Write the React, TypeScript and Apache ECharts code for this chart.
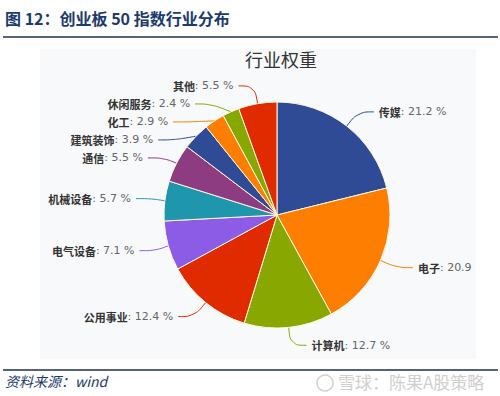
import React, { useEffect, useRef } from "react";
import * as echarts from "echarts";

const categories = ["传媒", "电子", "计算机", "公用事业", "电气设备", "机械设备", "通信", "建筑装饰", "化工", "休闲服务", "其他"];
const weights = [21.2, 20.9, 12.7, 12.4, 7.1, 5.7, 5.5, 3.9, 2.9, 2.4, 5.5];
const palette = ["#2f4b96", "#fd7e00", "#88a700", "#e02a00", "#8c5ce6", "#1e97ad", "#8e3c82"];
const chartTitle = "行业权重";
const figureTitle = "图 12：创业板 50 指数行业分布";
const sourceText = "资料来源：wind";
const watermark = "雪球：陈果A股策略";

export default function App() {
  const ref = useRef<HTMLDivElement>(null);
  useEffect(() => {
    if (!ref.current) return;
    const chart = echarts.init(ref.current, undefined, { renderer: "svg" });
    const cjk = "'Noto Sans CJK SC', 'Noto Sans', sans-serif";
    const num = "'DejaVu Sans', 'Noto Sans CJK SC', sans-serif";
    chart.setOption({
      animation: false,
      title: {
        text: chartTitle,
        left: 276,
        top: 45,
        textAlign: "center",
        textStyle: { fontSize: 18, fontWeight: "normal", color: "#333", fontFamily: cjk },
      },
      graphic: [
        { type: "rect", z: -10, shape: { x: 40, y: 49, width: 436, height: 310 }, style: { fill: "#f8f9fb" } },
        { type: "text", x: 5, y: 10, style: { text: figureTitle, font: `bold 16px ${cjk}`, fill: "#1c3a6b" } },
        { type: "line", shape: { x1: 3, y1: 37, x2: 498, y2: 37 }, style: { stroke: "#1c3050", lineWidth: 1.5 } },
        { type: "line", shape: { x1: 3, y1: 370, x2: 498, y2: 370 }, style: { stroke: "#1c3050", lineWidth: 1.5 } },
        { type: "text", x: 5, y: 374, style: { text: sourceText, font: `italic 14px ${cjk}`, fill: "#1c3a6b" } },
        { type: "circle", shape: { cx: 325, cy: 383, r: 8 }, style: { fill: "none", stroke: "#d0d0d0", lineWidth: 1.5 } },
        { type: "text", x: 338, y: 373, style: { text: watermark, font: `17px ${cjk}`, fill: "#cfcfcf" } },
      ],
      series: [
        {
          type: "pie",
          center: [277, 215],
          radius: 113,
          startAngle: 90,
          clockwise: true,
          color: palette,
          itemStyle: { borderColor: "#fff8e0", borderWidth: 1 },
          label: {
            show: true,
            fontSize: 11,
            fontFamily: cjk,
            lineHeight: 16,
            formatter: (p: any) =>
              `{n|${p.name}}{v|: ${p.value}${p.name === "电子" ? "" : " %"}}`,
            rich: {
              n: { fontWeight: "bold", color: "#333", fontSize: 11, lineHeight: 16, fontFamily: cjk },
              v: { color: "#666", fontSize: 11, lineHeight: 16, fontFamily: num },
            },
          },
          labelLine: { show: true, length: 18, length2: 16, smooth: 0.4, lineStyle: { width: 1 } },
          data: categories.map((c, i) => ({ name: c, value: weights[i] })),
        },
      ],
    });
    return () => chart.dispose();
  }, []);
  return <div ref={ref} style={{ position: "absolute", left: 0, top: 0, width: 500, height: 396 }} />;
}
